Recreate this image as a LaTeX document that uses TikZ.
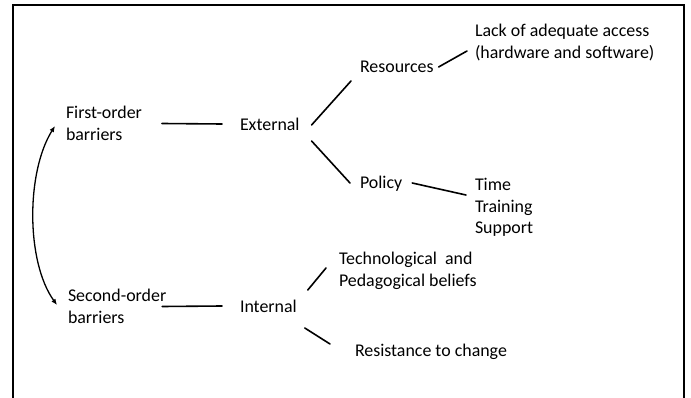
\documentclass[tikz,border=0pt]{standalone}
\usepackage{fontspec}
\setmainfont{Carlito}
\usetikzlibrary{arrows.meta}
\begin{document}
\begin{tikzpicture}[x=1pt,y=-1pt,
  lbl/.style={inner sep=0pt,outer sep=0pt,anchor=west,align=left,
    font=\fontsize{17.9}{21.5}\selectfont},
  conn/.style={line width=1.6pt,line cap=round},
  frame/.style={line width=2pt}]
\useasboundingbox (0,0) rectangle (691,398);
\draw[frame] (12.5,398) -- (12.5,5) -- (684,5) -- (684,398);

\node[lbl] (first)  at (66,123.5)  {First-order\\barriers};
\node[lbl] (second) at (68,306.5)  {Second-order\\barriers};
\node[lbl] (ext)    at (240,124)   {External};
\node[lbl] (int)    at (240,306)   {Internal};
\node[lbl] (res)    at (360,67)    {Resources};
\node[lbl] (pol)    at (360,184)   {Policy};
\node[lbl] (lack)   at (475,42.5)  {Lack of adequate access\\(hardware and software)};
\node[lbl] (ttt)    at (475,207.5) {Time\\Training\\Support};
\node[lbl] (tech)   at (339,271)   {Technological\ \ and\\Pedagogical beliefs};
\node[lbl] (resist) at (355,352)   {Resistance to change};

\draw[conn] ([xshift=20pt]first.east) -- ([xshift=-18pt]ext.west);
\draw[conn] ([xshift=-4pt]second.east) -- ([xshift=-18pt]int.west);
\draw[conn] ([xshift=12pt,yshift=-1pt]ext.east) -- ([xshift=-9pt,yshift=-14pt]res.west);
\draw[conn] ([xshift=12pt,yshift=-17pt]ext.east) -- ([xshift=-10pt,yshift=1pt]pol.west);
\draw[conn] ([xshift=5pt]res.east) -- ([xshift=-8pt,yshift=-8.5pt]lack.west);
\draw[conn] ([xshift=10pt,yshift=1pt]pol.east) -- ([xshift=-9pt,yshift=12.5pt]ttt.west);
\draw[conn] ([xshift=11pt,yshift=16pt]int.east) -- ([xshift=-13pt,yshift=3pt]tech.west);
\draw[conn] ([xshift=8pt,yshift=-22pt]int.east) -- ([xshift=-25pt,yshift=8pt]resist.west);

\draw[line width=1.3pt,{Latex[length=6pt,width=5pt]}-{Latex[length=6pt,width=5pt]}]
  ([xshift=-11pt,yshift=-2.5pt]first.west)
  .. controls (26,172) and (26,262) ..
  ([xshift=-11pt,yshift=1.5pt]second.west);
\end{tikzpicture}
\end{document}
